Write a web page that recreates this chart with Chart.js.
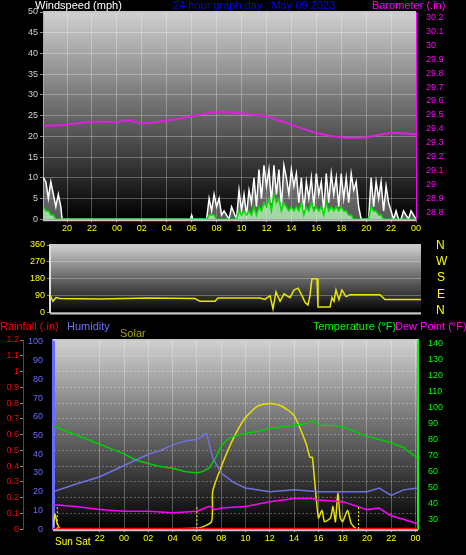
<!DOCTYPE html>
<html><head><meta charset="utf-8">
<script src="https://cdn.jsdelivr.net/npm/chart.js@4"></script>
<style>
body{margin:0;background:#000;width:466px;height:555px;overflow:hidden;position:relative;font-family:"Liberation Sans",Arial,sans-serif}
canvas{position:absolute;left:0}
.t{position:absolute;font-size:11px;white-space:nowrap;line-height:11px}
</style></head><body>
<canvas id="wind" style="top:0px" width="466" height="235"></canvas>
<canvas id="dir" style="top:235px" width="466" height="85"></canvas>
<canvas id="temp" style="top:320px" width="466" height="235"></canvas>
<div class="t" style="left:35px;top:0;color:#fff">Windspeed (mph)</div>
<div class="t" style="left:173px;top:0;color:#0000ff">24 hour graph day : May 09 2023</div>
<div class="t" style="left:372px;top:0;color:#ff00ff">Barometer (.in)</div>
<div class="t" style="left:436px;top:240px;color:#ffff00;font-size:12px">N</div>
<div class="t" style="left:436px;top:256px;color:#ffff00;font-size:12px">W</div>
<div class="t" style="left:437px;top:272px;color:#ffff00;font-size:12px">S</div>
<div class="t" style="left:437px;top:289px;color:#ffff00;font-size:12px">E</div>
<div class="t" style="left:436px;top:305px;color:#ffff00;font-size:12px">N</div>
<div class="t" style="left:0;top:321px;color:#ff0000">Rainfall (.in)</div>
<div class="t" style="left:67px;top:321px;color:#7070ff">Humidity</div>
<div class="t" style="left:120px;top:328px;color:#a0a020">Solar</div>
<div class="t" style="left:313px;top:321px;color:#00ff00">Temperature (°F)</div>
<div class="t" style="left:395px;top:321px;color:#ff00ff">Dew Point (°F)</div>
<div class="t" style="left:55px;top:536px;color:#ffff00;font-size:10px">Sun Sat</div>
<script>
// time = hours after 20:00 on May 08
var windTime = [-1.9,-1.7,-1.5,-1.3,-1.1,-0.9,-0.7,-0.5,-0.4,9.9,
  10,10.1,11.2,11.4,11.6,11.8,12.0,12.2,12.4,12.6,
  12.8,13.0,13.2,13.6,13.8,14.0,14.2,14.4,14.6,14.8,
  15.0,15.2,15.4,15.6,15.8,16.0,16.2,16.4,16.6,16.8,
  17.0,17.2,17.4,17.6,17.8,18.0,18.2,18.4,18.6,18.8,
  19.0,19.2,19.4,19.6,19.8,20.0,20.2,20.4,20.6,20.8,
  21.0,21.2,21.4,21.6,21.8,22.0,22.2,22.4,22.6,22.8,
  23.0,23.2,23.4,23.6,23.8,24.0,24.2,24.4,24.6,24.8,
  25.0,25.2,25.4,25.6,25.8,26.0,26.2,26.4,26.6,26.8,
  27.0,27.4,27.6,28];
var gust = [10,9,5,9,6,3,6,3,0,0,
  1,0,0,5,2,6,3,5,1,2,
  1,0,3,0,7,2,6,1,7,4,
  10,3,12,5,13,8,12,4,13,6,
  12,3,13,10,6,12,8,11,4,10,
  2,9,5,10,3,11,6,9,2,11,
  4,11,6,10,3,11,5,10,4,11,
  7,9,3,0,0,0,0,10,3,9,
  5,9,2,8,4,2,0,2,0,0,
  2,0,2,0];
var windAvg = [3,2,2,1,1,0,0,0,0,0,
  0,0,0,1,1,1,0,0,0,0,
  0,0,0,0,2,1,2,1,2,1,
  3,1,3,2,4,3,5,2,6,4,
  5,2,4,3,2,3,2,3,2,4,
  1,3,2,4,2,3,2,3,1,4,
  2,3,2,3,2,3,2,2,1,1,
  0,0,0,0,0,0,0,3,2,2,
  1,1,0,0,0,0,0,0,0,0,
  0,0,0,0];
var baroTime = [-1.9,0,2,4,5,6,8,10,12,14,16,17,18,20,22,24,26,28];
var baro = [29.42,29.43,29.45,29.45,29.46,29.44,29.46,29.49,29.52,29.51,29.49,29.46,29.43,29.37,29.34,29.34,29.37,29.36];

var dirTime = [-1.93,-1.69,-1.45,-1.12,2.1,6.1,9.77,10.17,11.38,11.62,15.01,15.41,15.82,16.06,16.3,16.63,16.95,17.43,17.75,18.08,18.4,18.64,18.88,19.04,19.2,19.61,19.69,20.66,20.82,20.98,21.14,21.38,21.62,21.95,22.27,24.69,25.09,28];
var dirDeg = [95,60,80,75,72,78,75,60,60,78,78,70,90,20,110,60,100,80,120,130,90,55,40,90,180,180,30,30,80,60,120,70,120,85,95,95,70,70];

var tempTime = [-1.85,-1,0,1,2,3,4,5,6,7,8,9,10,10.5,11,11.5,12,12.5,13,14,15,16,17,18,19,19.6,20,21,22,23,24,25,26,27,28.2];
var temperature = [89,86,83,80,77,74,71,67,65,63,62,60,59,60,62,68,76,80,82,84,85,87,88,89,90,92,89,89,88,85,82,80,78,75,68];
var humTime = [-1.85,0,2,4,6,7,8,9,10,10.8,11.3,12,13,14,16,18,20,22,23,24,25,26,27,28.2];
var humidity = [20,24,28,34,40,42,45,47,48,51,38,30,25,22,20,21,20,20,20,20,22,18,21,22];
var dewTime = [-1.85,0,2,4,6,8,10,11,11.5,12,14,16,18,19.5,20,22,24,25,26,27,28.2];
var dewPoint = [39,38,36,35,35,34,35,38,36,37,38,41,43,43,42,41,36,37,32,30,27];
var solarTime = [-1.85,-1.7,-1.5,-1.3,-1,10,11.2,11.3,12,13,14,15,16,17,18,19,19.3,19.5,20,20.3,20.5,21,21.2,21.4,21.6,21.8,22,22.4,22.7,23.2,28.2];
var solar = [0,80,30,5,0,5,40,200,330,480,590,650,665,650,600,450,380,380,60,100,40,60,120,40,190,60,40,100,30,0,0];
var rainTime = [-1.85,28.2];
var rain = [0,0];
var sunMarks = [-1.5,10,23.3];
var hourTicks = [0,2,4,6,8,10,12,14,16,18,20,22,24,26,28];
var lowerHourTicks = [2,4,6,8,10,12,14,16,18,20,22,24,26,28];

function pts(xs, ys){ return xs.map(function(x,i){ return {x:x, y:ys[i]}; }); }
function hourLabel(v){ return String((20+v)%24).padStart(2,'0'); }
var font = {family:'"Liberation Sans", Arial, sans-serif', size:9};

var bgPlugin = {
  id:'bg',
  beforeDraw:function(c){
    var a = c.chartArea, ctx = c.ctx;
    var g = ctx.createLinearGradient(0,a.top,0,a.bottom);
    g.addColorStop(0,'#d0d0d0'); g.addColorStop(0.45,'#707070'); g.addColorStop(1,'#000');
    ctx.save(); ctx.fillStyle = g; ctx.fillRect(a.left,a.top,a.right-a.left,a.bottom-a.top); ctx.restore();
  },
  afterDraw:function(c){
    var a = c.chartArea, ctx = c.ctx;
    ctx.save(); ctx.strokeStyle='#c8c8c8'; ctx.lineWidth=2;
    ctx.beginPath(); ctx.moveTo(a.left,a.bottom+1); ctx.lineTo(a.right,a.bottom+1); ctx.stroke();
    ctx.beginPath(); ctx.moveTo(a.left,a.top); ctx.lineTo(a.right,a.top); ctx.stroke();
    ctx.restore();
  }
};
var sunPlugin = {
  id:'sun',
  afterDatasetsDraw:function(c){
    if (c.canvas.id !== 'temp') return;
    var ctx = c.ctx, x = c.scales.x, a = c.chartArea;
    ctx.save(); ctx.strokeStyle='#ffff00'; ctx.setLineDash([2,2]); ctx.lineWidth=1;
    sunMarks.forEach(function(v){
      var px = x.getPixelForValue(v);
      ctx.beginPath(); ctx.moveTo(px,a.bottom); ctx.lineTo(px,a.bottom-22); ctx.stroke();
    });
    ctx.restore();
  }
};
function grid(){ return {color:'rgba(255,255,255,0.28)', tickLength:3, tickColor:'#888'}; }
function fixW(w){ return function(s){ s.width = w; }; }
function xAxis(min,max,ticksList){
  return {type:'linear', min:min, max:max,
    afterBuildTicks:function(s){ s.ticks = ticksList.map(function(v){ return {value:v}; }); },
    ticks:{color:'#ffff00', font:font, callback:hourLabel, maxRotation:0, autoSkip:false, padding:1},
    grid:grid(), border:{display:false}};
}

new Chart(document.getElementById('wind'), {
  type:'line',
  data:{datasets:[
    {data:pts(baroTime,baro), yAxisID:'yb', borderColor:'#e020e0', borderWidth:2, pointRadius:0, tension:0.4},
    {data:pts(windTime,windAvg), yAxisID:'y', borderColor:'#00e000', backgroundColor:'rgba(190,255,190,0.75)', fill:'origin', borderWidth:1.5, pointRadius:0},
    {data:pts(windTime,gust), yAxisID:'y', borderColor:'#ffffff', backgroundColor:'rgba(200,200,200,0.45)', fill:'origin', borderWidth:1.5, pointRadius:0}
  ]},
  options:{animation:false, responsive:false, plugins:{legend:{display:false}, tooltip:{enabled:false}},
    layout:{padding:{top:12}},
    scales:{
      x:xAxis(-1.93,28,hourTicks),
      y:{min:0,max:50,ticks:{stepSize:5,color:'#d0d0d0',font:font,padding:2},grid:grid(),border:{color:'#aaa'},afterFit:fixW(43)},
      yb:{position:'right',min:28.75,max:30.24,afterBuildTicks:function(s){ var t=[]; for (var i=0;i<=14;i++) t.push({value:Math.round((28.8+i*0.1)*10)/10}); s.ticks=t; },
        ticks:{color:'#ff00ff',font:font,padding:2,callback:function(v){ return String(v); }},grid:{display:false},border:{color:'#ff00ff'},afterFit:fixW(50)}
    }},
  plugins:[bgPlugin]
});

new Chart(document.getElementById('dir'), {
  type:'line',
  data:{datasets:[{data:pts(dirTime,dirDeg), borderColor:'#e8e800', borderWidth:1.5, pointRadius:0}]},
  options:{animation:false, responsive:false, plugins:{legend:{display:false}, tooltip:{enabled:false}},
    layout:{padding:{top:10,bottom:7}},
    scales:{
      x:{type:'linear',min:-1.93,max:28,display:false},
      y:{min:0,max:360,ticks:{stepSize:90,color:'#ffff00',font:font,padding:2},grid:grid(),border:{color:'#ddd',width:2},afterFit:fixW(50)},
      yr:{position:'right',min:0,max:360,display:true,ticks:{display:false},grid:{display:false},border:{display:false},afterFit:fixW(45)}
    }},
  plugins:[bgPlugin]
});

new Chart(document.getElementById('temp'), {
  type:'line',
  data:{datasets:[
    {data:pts(rainTime,rain), yAxisID:'yr', borderColor:'#ff0000', borderWidth:3, pointRadius:0},
    {data:pts(dewTime,dewPoint), yAxisID:'yt', borderColor:'#ff00ff', borderWidth:1.5, pointRadius:0},
    {data:pts(humTime,humidity), yAxisID:'yh', borderColor:'#7070e0', borderWidth:1.5, pointRadius:0},
    {data:pts(tempTime,temperature), yAxisID:'yt', borderColor:'#00d000', borderWidth:1.5, pointRadius:0},
    {data:pts(solarTime,solar), yAxisID:'ys', borderColor:'#e8e000', borderWidth:1.5, pointRadius:0, tension:0.2}
  ]},
  options:{animation:false, responsive:false, plugins:{legend:{display:false}, tooltip:{enabled:false}},
    layout:{padding:{top:20,bottom:10}},
    scales:{
      x:xAxis(-1.85,28.2,lowerHourTicks),
      yh:{position:'left',min:0,max:101,afterBuildTicks:function(s){ var t=[]; for (var v=0;v<=100;v+=10) t.push({value:v}); s.ticks=t; },
        ticks:{color:'#6a6aff',font:font,padding:2},grid:{display:false},border:{color:'#6a6aff',width:3},afterFit:fixW(30)},
      yr:{position:'left',min:0,max:1.2,ticks:{stepSize:0.1,color:'#ff0000',font:font,padding:1,callback:function(v){ return Math.round(v*10)/10; }},grid:grid(),border:{color:'#ff0000',dash:[2,2]},afterFit:fixW(23)},
      yt:{position:'right',min:23.7,max:142.5,afterBuildTicks:function(s){ var t=[]; for (var v=30;v<=140;v+=10) t.push({value:v}); s.ticks=t; },
        ticks:{color:'#00ff00',font:font,padding:2},grid:{display:false},border:{color:'#00ff00',width:2},afterFit:fixW(48)},
      ys:{min:0,max:1000,display:false}
    }},
  plugins:[bgPlugin,sunPlugin]
});
</script>
</body></html>
